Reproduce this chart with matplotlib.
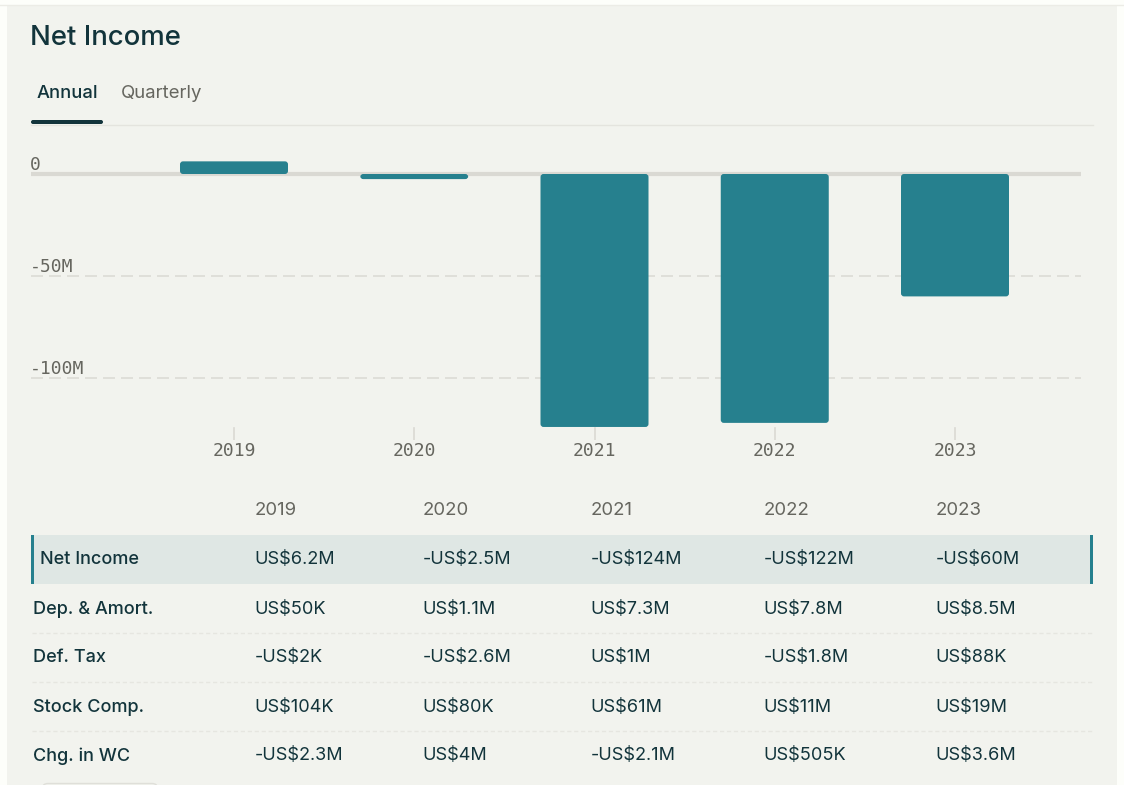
import matplotlib
matplotlib.use("Agg")
import matplotlib.pyplot as plt
from matplotlib.patches import FancyBboxPatch, Rectangle

WIDTH, HEIGHT = 1124, 785

years = ["2019", "2020", "2021", "2022", "2023"]
net_income = [6.2, -2.5, -124, -122, -60]
y_ticks = [0, -50, -100]
y_labels = ["0", "-50M", "-100M"]

row_names = ["Net Income", "Dep. & Amort.", "Def. Tax", "Stock Comp.", "Chg. in WC"]
net_income_txt = ["US$6.2M", "-US$2.5M", "-US$124M", "-US$122M", "-US$60M"]
dep_amort_txt = ["US$50K", "US$1.1M", "US$7.3M", "US$7.8M", "US$8.5M"]
def_tax_txt = ["-US$2K", "-US$2.6M", "US$1M", "-US$1.8M", "US$88K"]
stock_comp_txt = ["US$104K", "US$80K", "US$61M", "US$11M", "US$19M"]
chg_wc_txt = ["-US$2.3M", "US$4M", "-US$2.1M", "US$505K", "US$3.6M"]
rows = [net_income_txt, dep_amort_txt, def_tax_txt, stock_comp_txt, chg_wc_txt]

PAGE = "#FDFEFA"
CARD = "#F2F3EE"
DARK = "#12343B"
GREY = "#66665F"
TEAL = "#26808E"
LINE = "#DAD9D3"
SANS = "Inter"
MONO = "DejaVu Sans Mono"

fig = plt.figure(figsize=(WIDTH / 100, HEIGHT / 100), dpi=100, facecolor=PAGE)

# page layer, in pixels
bg = fig.add_axes([0, 0, 1, 1])
bg.set_xlim(0, WIDTH)
bg.set_ylim(HEIGHT, 0)
bg.axis("off")
bg.add_patch(Rectangle((7, 5), 1110, 780, fc=CARD, ec="none"))
bg.plot([0, WIDTH], [4.5, 4.5], color="#ECECE6", lw=1)

bg.text(30.5, 38, "Net Income", color=DARK, fontsize=19.8, family=SANS, weight="medium", va="center")
bg.text(36.5, 94, "Annual", color=DARK, fontsize=13.2, family=SANS, weight="medium", va="center")
bg.text(120.5, 94, "Quarterly", color=GREY, fontsize=13.4, family=SANS, va="center")
bg.plot([31, 1093], [124.5, 124.5], color="#E4E4DE", lw=1)
bg.add_patch(FancyBboxPatch((31, 120), 72, 4, boxstyle="round,pad=0,rounding_size=2", fc=DARK, ec="none"))

# table
col_x = [254.5, 422.5, 590.5, 763.5, 935.5]
bg.add_patch(Rectangle((31, 535), 1062, 49, fc="#DFE7E4", ec="none"))
bg.add_patch(Rectangle((31, 535), 3, 49, fc=TEAL, ec="none"))
bg.add_patch(Rectangle((1090, 535), 3, 49, fc=TEAL, ec="none"))
for x, year in zip(col_x, years):
    bg.text(x, 510.5, year, color=GREY, fontsize=13.4, family=SANS, va="center")
for i, (name, vals) in enumerate(zip(row_names, rows)):
    y = 560 + i * 49
    bg.text(39.5 if i == 0 else 33, y, name, color=DARK, fontsize=13, family=SANS, weight="medium", va="center")
    for x, val in zip(col_x, vals):
        bg.text(x, y, val, color=DARK, fontsize=13.05, family=SANS, va="center")
    if i > 0 and i < 4:
        bg.plot([32, 1093], [y + 23.5, y + 23.5], color="#E6E6E0", lw=1, ls=(0, (3, 2)))
bg.add_patch(FancyBboxPatch((42, 783.5), 116, 10, boxstyle="round,pad=0,rounding_size=6", fc=CARD, ec="#DFDFD9", lw=1))

# chart, placed so that 0 sits at 174px and 50M is 102px
left, right, top, bottom = 31, 1081, 150, 440
ax = fig.add_axes([left / WIDTH, 1 - bottom / HEIGHT, (right - left) / WIDTH, (bottom - top) / HEIGHT])
ax.patch.set_alpha(0)
px_x = 180.25
px_y = 2.04
ax.set_xlim(-(234 - left) / px_x, (right - 234) / px_x)
ax.set_ylim(-(bottom - 174) / px_y, (174 - top) / px_y)
for side in ax.spines.values():
    side.set_visible(False)
ax.set_xticks([])
ax.set_yticks([])

ax.axhline(0, color=LINE, lw=3, zorder=1)
for t in y_ticks[1:]:
    ax.axhline(t, color="#DFDFD9", lw=1.44, ls=(0, (6, 3)), dash_capstyle="butt", zorder=1)

bar_w = 108 / px_x
radius = 3 / px_x
for i, v in enumerate(net_income):
    ax.add_patch(FancyBboxPatch((i - bar_w / 2, min(v, 0)), bar_w, abs(v),
                                boxstyle=f"round,pad=0,rounding_size={radius}",
                                mutation_aspect=px_x / px_y, fc=TEAL, ec="none", zorder=2))

for t, label in zip(y_ticks, y_labels):
    ax.text(-0.001, t + 4.6, label, transform=ax.get_yaxis_transform(), color=GREY, fontsize=13,
            family=MONO, va="center", ha="left")
for i, year in enumerate(years):
    ax.plot([i, i], [-124.5, -130.5], color=LINE, lw=1.2, zorder=1)
    bg.text(234 + i * px_x, 451, year, color=GREY, fontsize=13, family=MONO, ha="center", va="center")

fig.savefig("out.png", dpi=100, facecolor=PAGE)
